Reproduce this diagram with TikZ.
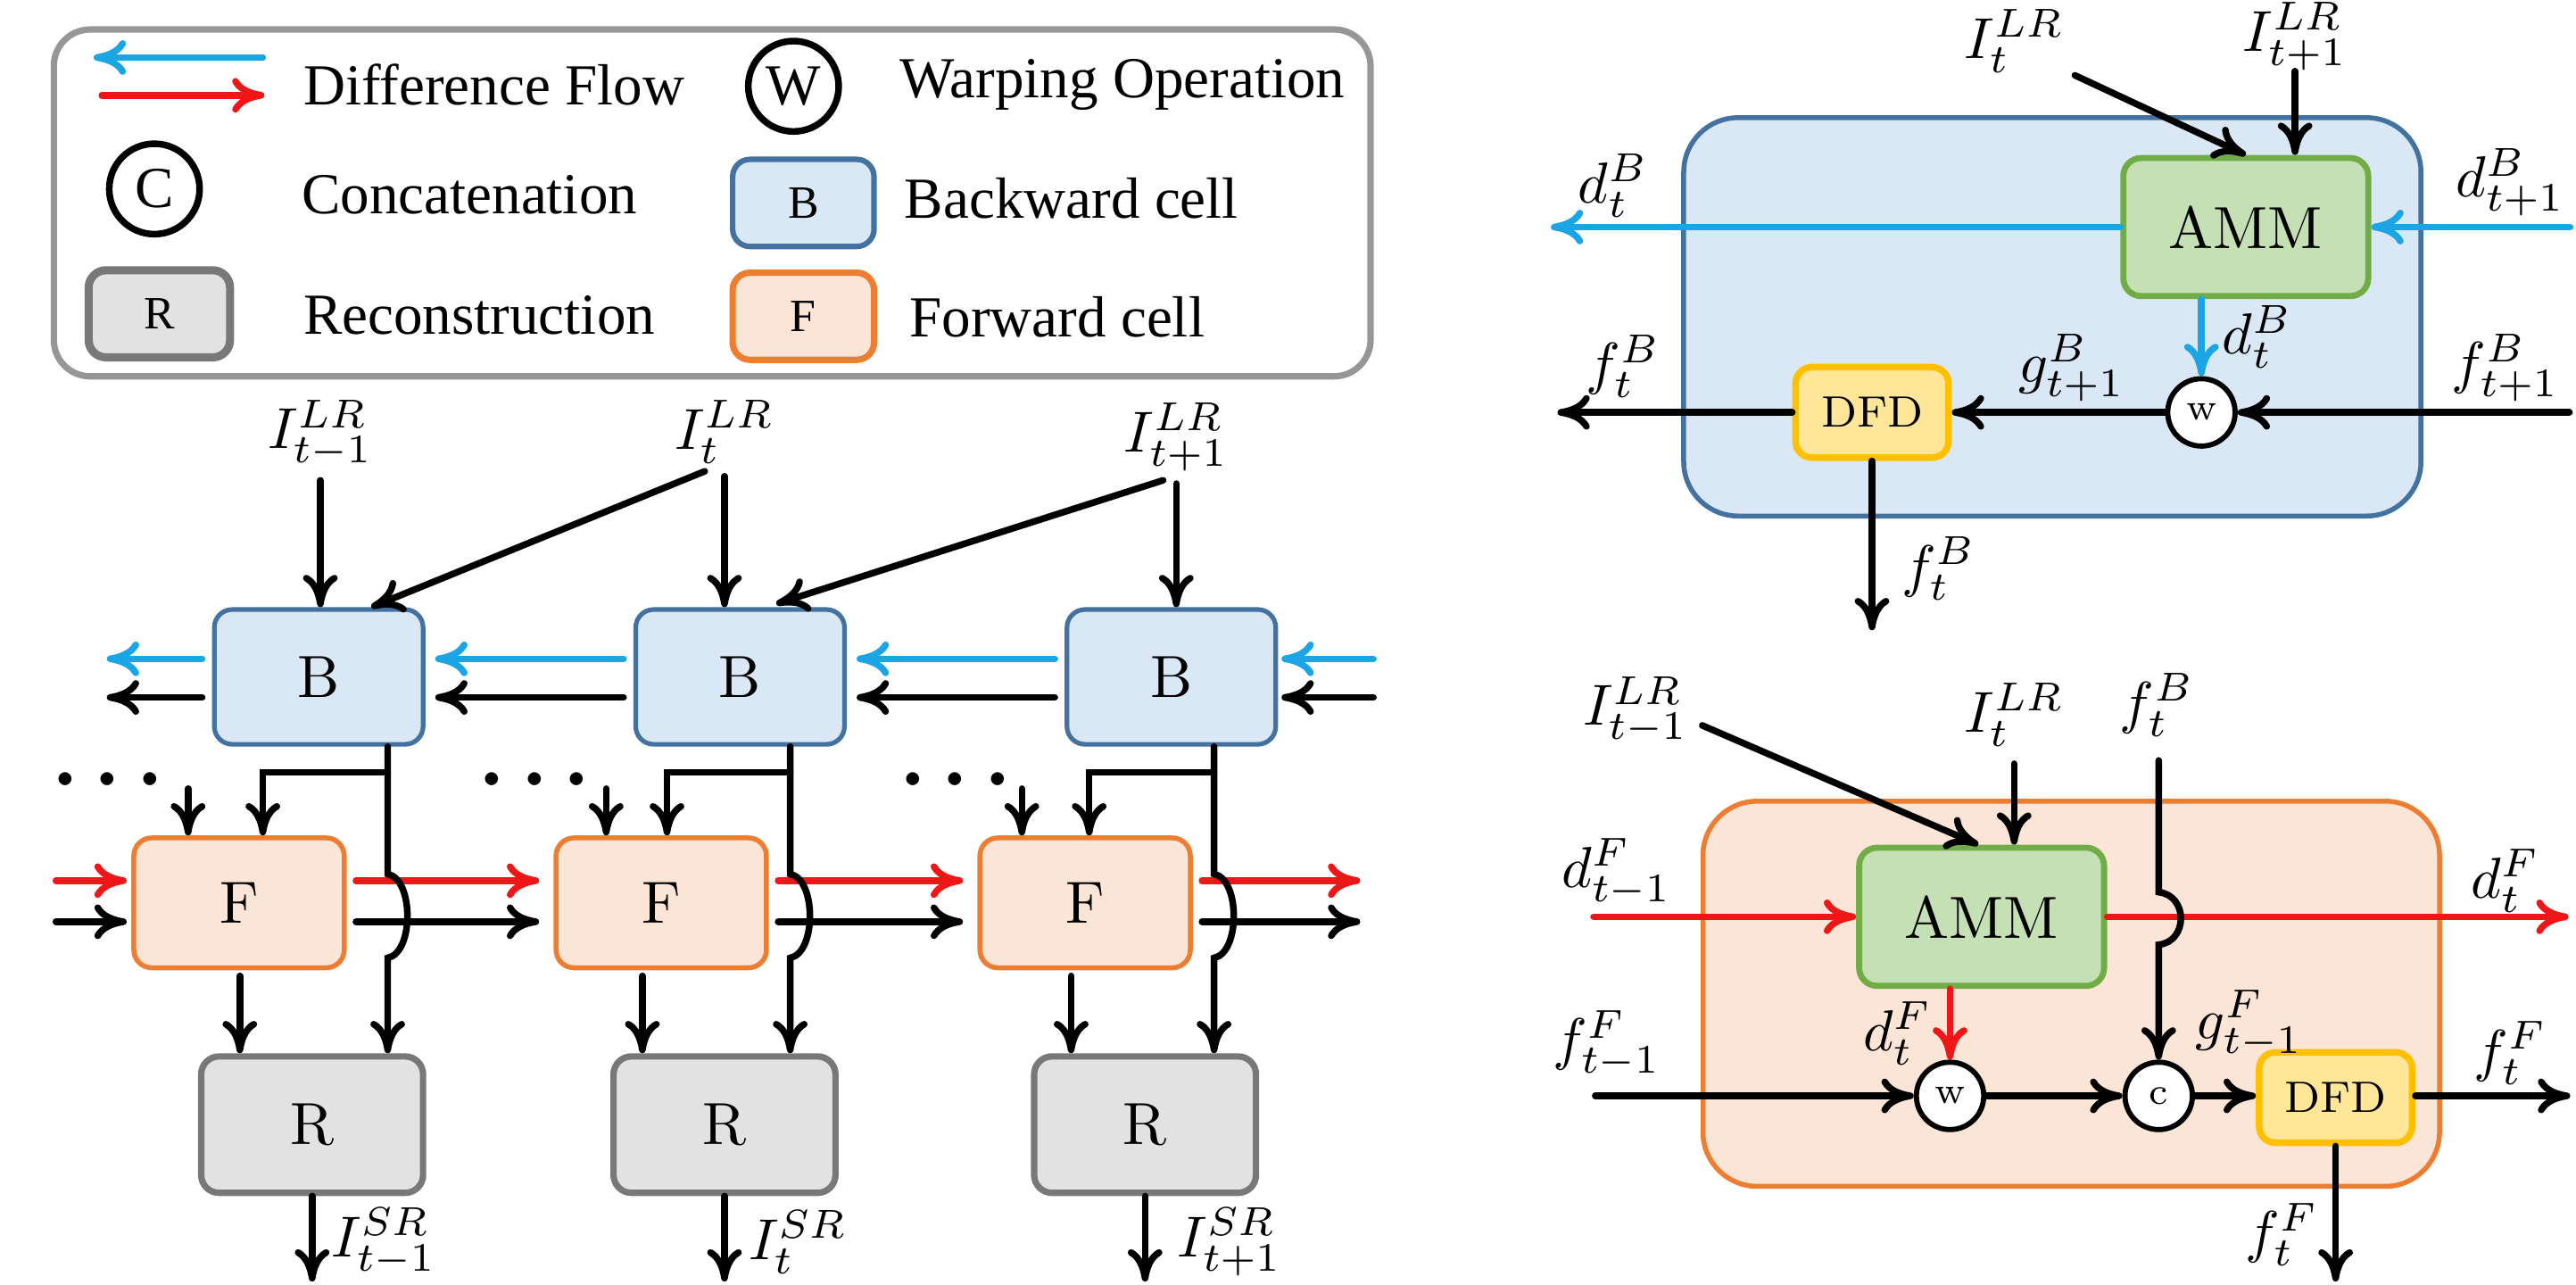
\documentclass[tikz,border=0pt]{standalone}
\usepackage{fontspec}
\newfontfamily\legendfont{Liberation Serif}
\usetikzlibrary{arrows.meta,calc}

\definecolor{bfill}{RGB}{218,232,246}
\definecolor{bdraw}{RGB}{68,114,160}
\definecolor{ffill}{RGB}{251,229,214}
\definecolor{fdraw}{RGB}{237,125,49}
\definecolor{rfill}{RGB}{226,226,226}
\definecolor{rdraw}{RGB}{120,120,120}
\definecolor{gfill}{RGB}{197,224,180}
\definecolor{gdraw}{RGB}{112,173,71}
\definecolor{yfill}{RGB}{255,230,153}
\definecolor{ydraw}{RGB}{255,192,0}
\definecolor{flowblue}{RGB}{28,165,228}
\definecolor{flowred}{RGB}{238,22,22}
\definecolor{framegray}{RGB}{150,150,150}

\tikzset{
  conn/.style={line width=1.15pt, line cap=round},
  arr/.style={conn, -{Computer Modern Rightarrow[length=5.6pt,width=6pt]}},
  barr/.style={arr, draw=flowblue},
  rarr/.style={arr, draw=flowred},
  hgap/.style={shorten <=1.7pt, shorten >=1.7pt},
  boxbase/.style={rounded corners=3.1pt, inner sep=0pt, font=\fontsize{10.3}{12}\selectfont},
  bnode/.style={boxbase, draw=bdraw, fill=bfill, line width=0.8pt, minimum width=1.27cm, minimum height=0.82cm},
  fnode/.style={boxbase, draw=fdraw, fill=ffill, line width=0.85pt, minimum width=1.28cm, minimum height=0.79cm},
  rnode/.style={boxbase, draw=rdraw, fill=rfill, line width=1.1pt, minimum width=1.35cm, minimum height=0.83cm},
  ammnode/.style={boxbase, draw=gdraw, fill=gfill, line width=1.05pt, minimum width=1.49cm, minimum height=0.84cm},
  dfdnode/.style={boxbase, rounded corners=2.8pt, draw=ydraw, fill=yfill, line width=1.15pt, minimum width=0.93cm, minimum height=0.55cm, font=\fontsize{7.6}{9}\selectfont},
  opnode/.style={circle, draw, fill=white, line width=0.9pt, inner sep=0pt, minimum size=0.41cm, font=\fontsize{6.5}{7}\selectfont},
  cellB/.style={draw=bdraw, fill=bfill, line width=0.85pt, rounded corners=9.4pt, minimum width=4.485cm, minimum height=2.423cm, inner sep=0pt},
  cellF/.style={draw=fdraw, fill=ffill, line width=0.85pt, rounded corners=9.4pt, minimum width=4.481cm, minimum height=2.343cm, inner sep=0pt},
  lbl/.style={inner sep=0pt, font=\fontsize{10.3}{12}\selectfont},
  dotsnode/.style={inner sep=0pt, anchor=base, font=\fontsize{14.5}{16}\selectfont\boldmath},
  legframe/.style={draw=framegray, line width=1.1pt, rounded corners=6.3pt, minimum width=8.01cm, minimum height=2.11cm, inner sep=0pt},
  legtext/.style={inner sep=0pt, anchor=base west, font=\legendfont\fontsize{10.05}{12}\selectfont},
  legop/.style={circle, draw, line width=1.15pt, minimum size=0.55cm, inner sep=0pt, font=\legendfont\fontsize{10.05}{12}\selectfont},
  legbox/.style={rounded corners=3pt, minimum width=0.86cm, minimum height=0.53cm, inner sep=0pt, font=\legendfont\fontsize{8}{9.6}\selectfont}
}

\begin{document}
\begin{tikzpicture}[x=0.01cm,y=-0.01cm]
\useasboundingbox (0,0) rectangle (1568,782);

% ---------------- legend ----------------
\node[legframe] (LG) at (433.5,123.5) {};
\coordinate (lgBa) at (160,35);
\coordinate (lgBb) at (57,35);
\draw[barr] (lgBa) -- (lgBb);
\coordinate (lgRa) at (62,58);
\coordinate (lgRb) at (161,58);
\draw[rarr] (lgRa) -- (lgRb);
\node[legtext] (tDF) at (184,63.7) {Difference Flow};
\node[legop] (lgW) at (483,52.5) {W};
\node[legtext] (tWO) at (547,59.6) {Warping Operation};
\node[legop] (lgC) at (94,115) {C};
\node[legtext] (tCC) at (183,130) {Concatenation};
\node[legbox, draw=bdraw, fill=bfill, line width=0.95pt] (lgBx) at (489,123.5) {B};
\node[legtext] (tBC) at (550,133) {Backward cell};
\node[legbox, draw=rdraw, fill=rfill, line width=1.4pt] (lgRx) at (97,191) {R};
\node[legtext] (tRC) at (184,203.5) {Reconstruction};
\node[legbox, draw=fdraw, fill=ffill, line width=1.1pt] (lgFx) at (489,192.5) {F};
\node[legtext] (tFC) at (553,205) {Forward cell};

% ---------------- unrolled network ----------------
\node[lbl] (Lm1) at (195,264) {$I_{t-1}^{LR}$};
\node[lbl] (L0)  at (441,263) {$I_{t}^{LR}$};
\node[lbl] (Lp1) at (716,266) {$I_{t+1}^{LR}$};

\foreach \cK/\cB/\cF/\cR/\cL/\cBr/\cSm/\cFr/\cDt/\cSr/\cSub in {
  1/194/145.5/190/236/160/114.5/146/65.5/201/t-1,
  2/450.5/402.5/441/481/406/369/391/325.5/455/t,
  3/713/660.5/697/739/663/622/652/581.5/716/t+1}{
  \node[bnode] (B\cK) at (\cB,412) {B};
  \node[fnode] (F\cK) at (\cF,549.5) {F};
  \node[rnode] (R\cK) at (\cR,684.5) {R};
  \coordinate (J\cK) at (\cL,470);
  \coordinate (K\cK) at (\cBr,470);
  \coordinate (S\cK) at (\cSm,480);
  \coordinate (Ha\cK) at (\cL,532);
  \coordinate (Hb\cK) at (\cL,583);
  \coordinate (FR\cK) at (\cFr,594);
  \coordinate (O\cK) at (\cR,780);
  \node[dotsnode] (Dt\cK) at (\cDt,487) {$\cdots$};
  \node[lbl, anchor=west] (SR\cK) at (\cSr,756) {$I_{\cSub}^{SR}$};
}

% inputs of the backward cells
\draw[arr, shorten <=2pt] (Lm1.south) -- (Lm1.south |- B1.north);
\draw[arr, shorten <=2pt] (L0.south) -- (L0.south |- B2.north);
\draw[arr, shorten <=2pt] (Lp1.south) -- (Lp1.south |- B3.north);
\draw[arr] ($(L0.south)+(-12,4)$) -- ($(B1.north)+(32,0)$);
\draw[arr] ($(Lp1.south)+(-8,5)$) -- ($(B2.north)+(22,-2)$);

% backward difference flow and features
\coordinate (bLout) at (65,401);
\coordinate (kLout) at (65,424.5);
\coordinate (bRin) at (836,401);
\coordinate (kRin) at (836,424.5);
\draw[barr, shorten <=1.7pt] (B1.west |- bLout) -- (bLout);
\draw[arr, shorten <=1.7pt] (B1.west |- kLout) -- (kLout);
\draw[barr, hgap] (B2.west |- bLout) -- (B1.east |- bLout);
\draw[arr, hgap] (B2.west |- kLout) -- (B1.east |- kLout);
\draw[barr, hgap] (B3.west |- bLout) -- (B2.east |- bLout);
\draw[arr, hgap] (B3.west |- kLout) -- (B2.east |- kLout);
\draw[barr, shorten >=0.6pt] (bRin) -- (B3.east |- bRin);
\draw[arr, shorten >=0.6pt] (kRin) -- (B3.east |- kRin);

% forward difference flow and features
\coordinate (rLin) at (34,536);
\coordinate (kFLin) at (34,561);
\coordinate (rRout) at (828,536);
\coordinate (kFRout) at (828,561);
\draw[rarr, shorten >=0.8pt] (rLin) -- (F1.west |- rLin);
\draw[arr, shorten >=0.8pt] (kFLin) -- (F1.west |- kFLin);
\draw[rarr, shorten <=1.6pt, shorten >=2.5pt] (F1.east |- rLin) -- (F2.west |- rLin);
\draw[arr, shorten <=1.6pt, shorten >=2.5pt] (F1.east |- kFLin) -- (F2.west |- kFLin);
\draw[rarr, shorten <=1.6pt, shorten >=2.5pt] (F2.east |- rLin) -- (F3.west |- rLin);
\draw[arr, shorten <=1.6pt, shorten >=2.5pt] (F2.east |- kFLin) -- (F3.west |- kFLin);
\draw[rarr, shorten <=1.6pt] (F3.east |- rLin) -- (rRout);
\draw[arr, shorten <=1.6pt] (F3.east |- kFLin) -- (kFRout);

% vertical links of each time step
\foreach \cK in {1,2,3}{
  \draw[arr] (B\cK.south -| J\cK) -- (Ha\cK)
     .. controls ($(Ha\cK)+(16,3)$) and ($(Hb\cK)+(16,-3)$) .. (Hb\cK)
     -- (R\cK.north -| J\cK);
  \draw[arr] (J\cK) -- (K\cK) -- (F\cK.north -| K\cK);
  \draw[arr] (S\cK) -- (F\cK.north -| S\cK);
  \draw[arr] (FR\cK) -- (R\cK.north -| FR\cK);
  \draw[arr] (R\cK.south) -- (O\cK);
}

% ---------------- backward cell detail ----------------
\node[cellB] (CB) at (1249.25,192.85) {};
\node[ammnode] (A1) at (1367,138.2) {AMM};
\node[dfdnode] (D1) at (1139.5,251) {DFD};
\node[opnode] (W1) at (1340,251) {w};

\node[lbl] (Lt0) at (1226,25) {$I_{t}^{LR}$};
\node[lbl] (Lt1) at (1397,22) {$I_{t+1}^{LR}$};
\node[lbl] (ldBa) at (982,113) {$d_{t}^{B}$};
\node[lbl] (lfBa) at (988,223) {$f_{t}^{B}$};
\node[lbl] (lgtB) at (1261,224) {$g_{t+1}^{B}$};
\node[lbl] (ldBb) at (1374,205) {$d_{t}^{B}$};
\node[lbl] (ldBc) at (1528,111) {$d_{t+1}^{B}$};
\node[lbl] (lfBc) at (1525,224) {$f_{t+1}^{B}$};
\node[lbl] (lfBd) at (1180,346) {$f_{t}^{B}$};

\coordinate (dBout) at (944,138.2);
\coordinate (dBin) at (1564.5,138.2);
\coordinate (fBin) at (1564,251);
\coordinate (fBout) at (948,251);
\coordinate (fBdown) at (1139.5,383.6);

\draw[barr] (A1.west) -- (dBout);
\draw[barr] (dBin) -- (A1.east);
\draw[barr] (A1.south -| W1) -- (W1.north);
\draw[arr] (fBin) -- (W1.east);
\draw[arr] (W1.west) -- (D1.east);
\draw[arr] (D1.west) -- (fBout);
\draw[arr] (D1.south) -- (fBdown);
\draw[arr] (Lt1.south) -- (Lt1.south |- A1.north);
\draw[arr] ($(Lt0.south east)+(6,1)$) -- (A1.north);

% ---------------- forward cell detail ----------------
\node[cellF] (CF) at (1260.75,604.85) {};
\node[ammnode] (A2) at (1206.2,558) {AMM};
\node[opnode] (W2) at (1187,667) {w};
\node[opnode] (C2) at (1314,667) {c};
\node[dfdnode] (D2) at (1421.7,668) {DFD};

\node[lbl] (Lb0) at (995.5,432.5) {$I_{t-1}^{LR}$};
\node[lbl] (Lb1) at (1226,435) {$I_{t}^{LR}$};
\node[lbl] (LfB) at (1313,429) {$f_{t}^{B}$};
\node[lbl] (ldFa) at (984,531) {$d_{t-1}^{F}$};
\node[lbl] (ldFb) at (1525,536) {$d_{t}^{F}$};
\node[lbl] (lfFa) at (978,635.5) {$f_{t-1}^{F}$};
\node[lbl] (ldFc) at (1155,629) {$d_{t}^{F}$};
\node[lbl] (lgtF) at (1369,623.5) {$g_{t-1}^{F}$};
\node[lbl] (lfFb) at (1528,641) {$f_{t}^{F}$};
\node[lbl] (lfFc) at (1389,751.5) {$f_{t}^{F}$};

\coordinate (dFin) at (970,558);
\coordinate (dFout) at (1563.5,558);
\coordinate (fFin) at (971,667);
\coordinate (fFout) at (1564.5,667);
\coordinate (fFdown) at (1421.7,780);
\coordinate (hFa) at (1314,543);
\coordinate (hFb) at (1314,575);

\draw[rarr] (dFin) -- (A2.west);
\draw[rarr] (A2.east) -- (dFout);
\draw[rarr] (A2.south -| W2) -- (W2.north);
\draw[arr] (fFin) -- (W2.west);
\draw[arr] (W2.east) -- (C2.west);
\draw[arr] (C2.east) -- (D2.west |- C2.east);
\draw[arr] (D2.east |- C2.east) -- (fFout);
\draw[arr] (D2.south) -- (fFdown);
\draw[arr] ($(C2.north |- LfB.south)+(0,14)$) -- (hFa)
   .. controls ($(hFa)+(18,2)$) and ($(hFb)+(18,-2)$) .. (hFb) -- (C2.north);
\draw[arr] ($(Lb0.east)+(8,9)$) -- ($(A2.north)+(-2,0)$);
\draw[arr] ($(Lb1.south)+(0,10)$) -- (Lb1.south |- A2.north);
\end{tikzpicture}
\end{document}
